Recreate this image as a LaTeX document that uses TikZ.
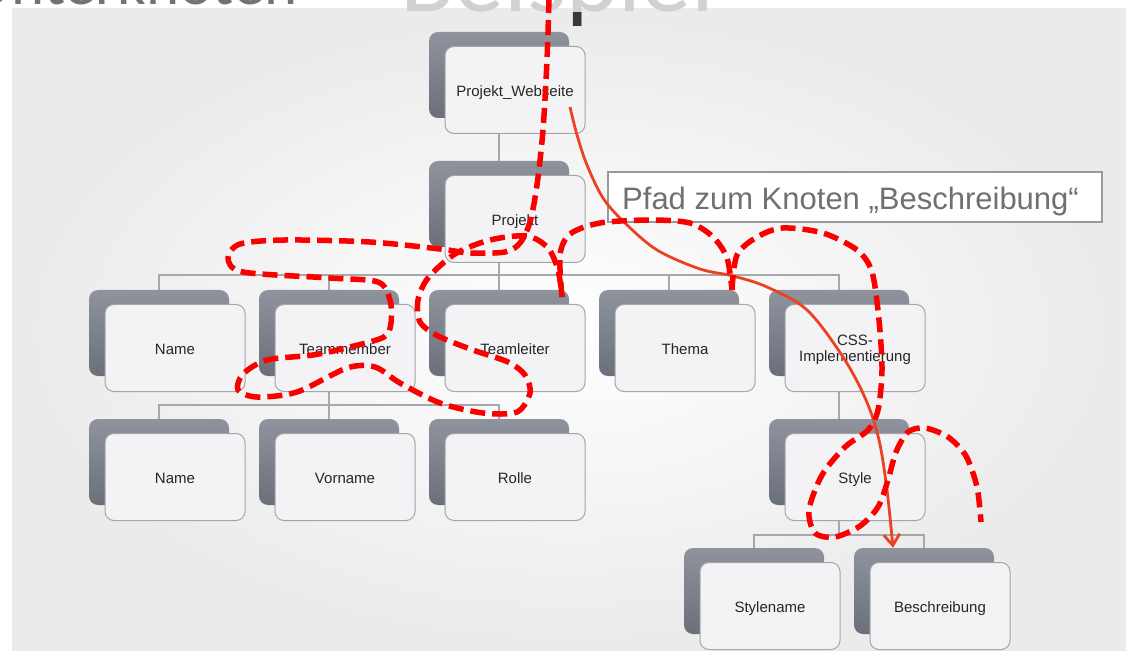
\documentclass[tikz,border=0pt]{standalone}
\usepackage{fontspec}
\setmainfont{Liberation Sans}
\newfontfamily\titlefont{Carlito}
\usetikzlibrary{arrows.meta,calc}

\definecolor{backtop}{RGB}{142,147,157}
\definecolor{backbot}{RGB}{106,111,121}
\definecolor{frontfill}{RGB}{243,243,246}
\definecolor{frontline}{RGB}{165,165,170}
\definecolor{linkgray}{RGB}{168,168,172}
\definecolor{pathred}{RGB}{236,66,36}
\definecolor{markred}{RGB}{250,0,0}
\definecolor{notegray}{RGB}{112,112,112}
\definecolor{noteline}{RGB}{152,152,157}

\tikzset{
  backbox/.style={rectangle, rounded corners=9pt, minimum width=140pt,
    minimum height=86pt, inner sep=0pt, top color=backtop, bottom color=backbot},
  frontbox/.style={rectangle, rounded corners=9pt, minimum width=140pt,
    minimum height=87pt, inner sep=0pt, fill=frontfill, draw=frontline, line width=1pt},
  boxlabel/.style={anchor=base, inner sep=0pt, font=\fontsize{15}{17}\selectfont,
    text=black!85, align=center},
  link/.style={draw=linkgray, line width=1.1pt},
  notebox/.style={rectangle, minimum width=494pt, minimum height=50pt, inner sep=0pt,
    fill=white, draw=noteline, line width=2.4pt},
  notetext/.style={anchor=base west, inner sep=0pt, font=\fontsize{31}{31}\selectfont,
    text=notegray},
  titlestyle/.style={anchor=base west, inner sep=0pt,
    font=\titlefont\fontsize{100}{100}\selectfont},
  pathcurve/.style={draw=pathred, line width=2.8pt,
    -{Straight Barb[length=11pt,width=16pt]}},
  markpath/.style={draw=markred, line width=5.5pt, dash pattern=on 15pt off 7pt},
}

% one tree entry: dark back plate, light front card and its label
% #1 name, #2/#3 centre of the front card, #4 baseline offset (last line), #5 text
\newcommand\treebox[5]{%
  \node[backbox] (#1-b) at (#2-16,#3-15) {};
  \node[frontbox] (#1) at (#2,#3) {};
  \node[boxlabel] (#1-t) at (#2,#3+#4) {#5};
}

\begin{document}
\begin{tikzpicture}[x=1pt,y=-1pt]
\useasboundingbox (0,0) rectangle (1130,660);
\fill[white] (0,0) rectangle (1130,660);
\shade[inner color=white, outer color=black!8] (12,9) rectangle (1126,650);

% slide headings, cut by the upper edge
\begin{scope}
  \clip (0,0) rectangle (1130,9);
  \node[anchor=base west, inner sep=0pt, font=\titlefont\fontsize{63}{63}\selectfont,
    text=black!55] (subtitle) at (-29,5) {Unterknoten};
\end{scope}
\begin{scope}
  \clip (0,0) rectangle (1130,13);
  \node[titlestyle, text=black!18] (title) at (400,12) {Beispiel};
\end{scope}
\begin{scope}
  \clip (0,13) rectangle (1130,26);
  \node[titlestyle, text=black!78] (titleshade) at (400,12) {Beispiel};
\end{scope}

% tree
\treebox{pw}{515}{90}{6.5}{Projekt\_Webseite}
\treebox{pj}{515}{219}{6.5}{Projekt}
\treebox{na}{175}{348}{6.5}{Name}
\treebox{tm}{345}{348}{6.5}{Teammember}
\treebox{tl}{515}{348}{6.5}{Teamleiter}
\treebox{th}{685}{348}{6.5}{Thema}
\treebox{css}{855}{348}{14}{CSS-\\Implementierung}
\treebox{nb}{175}{477}{6.5}{Name}
\treebox{vn}{345}{477}{6.5}{Vorname}
\treebox{ro}{515}{477}{6.5}{Rolle}
\treebox{st}{855}{477}{6.5}{Style}
\treebox{sn}{770}{606}{6.5}{Stylename}
\treebox{bs}{940}{606}{6.5}{Beschreibung}

% connectors
\draw[link] (pw.south -| pw-b.center) -- (pj-b.north);
\draw[link] (pj.south -| pj-b.center) -- ++(0,12) coordinate (pjbus);
\foreach \c in {na,tm,tl,th,css} \draw[link] (pjbus) -| (\c-b.north);
\draw[link] (tm.south -| tm-b.center) -- ++(0,13) coordinate (tmbus);
\foreach \c in {nb,vn,ro} \draw[link] (tmbus) -| (\c-b.north);
\draw[link] (css.south -| css-b.center) -- (st-b.north);
\draw[link] (st.south -| st-b.center) -- ++(0,14) coordinate (stbus);
\foreach \c in {sn,bs} \draw[link] (stbus) -| (\c-b.north);

% caption box
\node[notebox] (note) at (855,197) {};
\node[notetext] (notelabel) at (622,210) {Pfad zum Knoten „Beschreibung“};

% solid path to the target node
\coordinate (arrowstart) at ($(pw)+(55,17)$);
\coordinate (arrowend) at ($(bs-b.north)+(-31,0)$);
\draw[pathcurve] plot[smooth, tension=0.55] coordinates {(arrowstart) (577,135)
  (587,165) (603,198) (625,223) (657,250) (700,269) (733,276) (767,287) (807,310)
  (843,357) (866,400) (879,440) (887,490) (arrowend)};

% dashed traversal
\draw[markpath] plot[smooth] coordinates {(549,-2) (547,60) (543,130) (537,185)
  (530,222) (520,243) (505,252) (470,253) (440,249) (370,242) (285,240) (240,244)
  (228,258) (243,272) (330,278) (378,282) (390,300) (391,323) (384,337) (350,347)
  (313,355) (267,360) (243,374) (238,390) (257,397) (297,392) (347,368) (375,367)
  (400,383) (440,403) (483,413) (517,412) (530,393) (525,375) (508,362) (473,350)
  (438,336) (420,322) (418,300) (428,278) (455,254) (490,240) (527,236) (548,248)
  (558,270) (562,297)};
\draw[markpath] plot[smooth] coordinates {(562,297) (560,255) (570,234) (600,223)
  (650,220) (690,223) (713,237) (727,258) (732,290)};
\draw[markpath] plot[smooth] coordinates {(732,290) (737,255) (757,237) (783,228)
  (823,233) (857,250) (872,272) (879,320) (882,370) (878,410) (868,430) (845,447)
  (822,475) (809,510) (815,533) (835,537) (860,526) (878,507) (888,480) (896,452)
  (908,432) (925,428) (948,437) (966,456) (977,487) (981,522)};
\end{tikzpicture}
\end{document}
